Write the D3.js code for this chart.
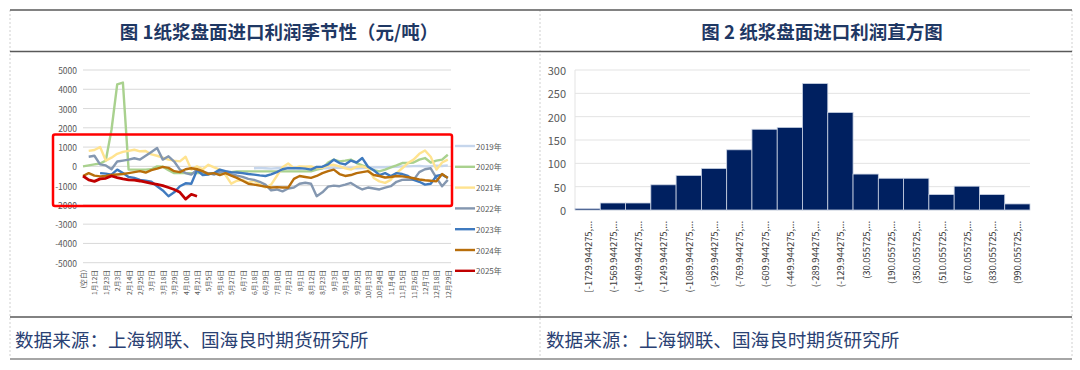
<!DOCTYPE html>
<html>
<head>
<meta charset="utf-8">
<script src="https://cdn.jsdelivr.net/npm/d3@7"></script>
<style>
  body { margin: 0; background: #fff; }
  text { font-family: "Noto Sans CJK SC", "Noto Sans", sans-serif; }
</style>
</head>
<body>
<div id="chart"></div>
<script>
// ---- data: figure 1 (seasonal import profit, 元/吨) ----
const dateLabels = ["(空白)", "1月12日", "1月23日", "2月3日", "2月14日", "2月25日", "3月7日", "3月18日",
  "3月29日", "4月10日", "4月21日", "5月5日", "5月16日", "5月27日", "6月7日", "6月18日", "6月29日",
  "7月10日", "7月21日", "8月1日", "8月12日", "8月23日", "9月3日", "9月14日", "9月25日", "10月13日",
  "10月24日", "11月4日", "11月15日", "11月26日", "12月7日", "12月18日", "12月29日"];

// values sampled every half label step (65 samples), null = no data
const y2019 = [null, null, null, null, null, null, null, null, null, null, null, null, null, null, null,
  null, null, null, null, null, null, null, null, null, null, null, null, null, null, null,
  -100, -80, -100, -120, -90, -100, -80, -60, -100, -120, -100, -80, -100, -90, -80, -60, -80, -90,
  -100, -90, -80, -60, -40, -50, -30, -20, 0, 0, 10, 20, 0, 10, 30, 20, 50];
const y2020 = [0, 50, 100, 150, 300, 1900, 4250, 4350, -170, -170, -170, -170, -150, 0, -20, -200,
  -350, -350, -350, -350, -350, -350, -350, -350, -350, -350, -300, -260, -260, -260, -260, -260,
  -260, -260, -260, -260, -260, -260, -260, -260, -260, -170, -100, 200, 350, 260, 300, 350, 170,
  50, -50, -200, -260, -170, -50, 50, 170, 170, 200, 350, 430, 200, 300, 350, 600];
const y2021 = [null, 800, 850, 1000, 300, 450, 650, 750, 800, 860, 780, 800, 620, 550, 450, 350, 300,
  260, 500, -170, 0, -150, 80, -50, -170, -450, -900, -750, -700, -850, -750, -950, -1100, -950,
  -500, -50, 150, -90, 0, -20, 0, -90, -80, 50, 80, 0, -100, -170, -20, 0, -100, -600, -780, -860,
  -700, -350, -100, 170, 350, 650, 820, 500, -170, 200, 350];
const y2022 = [null, 500, 550, 100, 50, -150, 250, 300, 350, 420, 350, 550, 750, 950, 350, 520, 250,
  -170, -350, -430, -170, -300, -350, -430, -300, -260, -400, -480, -550, -650, -700, -800, -950,
  -1250, -1200, -1300, -1150, -1100, -900, -850, -900, -1550, -1350, -1050, -1000, -1030, -950,
  -860, -1050, -1200, -1100, -1150, -1200, -1100, -1030, -800, -700, -680, -700, -300, -150, -100,
  -600, -1030, -700];
const y2023 = [null, null, null, -350, -380, -430, -170, -350, -550, -600, -700, -750, -800, -1030,
  -1250, -1550, -1350, -1030, -880, -900, -200, -450, -420, -350, -170, -250, -300, -320, -350, -400,
  -430, -470, -500, -420, -300, -150, -90, -100, -90, -120, -170, -30, -20, 100, 350, 170, 100, 300,
  200, 430, -20, -200, -450, -350, -500, -350, -400, -500, -700, -800, -950, -900, -500, -430, -600];
const y2024 = [-500, -350, -480, -520, -500, -450, -420, -400, -350, -300, -250, -320, -200, -120, -30,
  -80, -250, -300, -150, -100, -150, -250, -400, -350, -450, -350, -480, -600, -750, -900, -950,
  -1000, -1050, -1100, -1080, -1100, -1100, -650, -500, -550, -600, -500, -350, -250, -170, -400,
  -500, -450, -350, -300, -250, -450, -500, -580, -550, -500, -520, -560, -620, -680, -720, -750,
  -780, -400, -600];
const y2025 = [-500, -700, -780, -650, -620, -500, -580, -650, -700, -720, -760, -820, -880, -930,
  -1000, -1100, -1200, -1350, -1700, -1450, -1550];

const seasonYears = ["2019年", "2020年", "2021年", "2022年", "2023年", "2024年", "2025年"];
const seasonColors = ["#c6d6ec", "#a9d18e", "#ffe38f", "#8497b0", "#3f7abf", "#b86e0b", "#c00000"];
const seasonSeries = [y2019, y2020, y2021, y2022, y2023, y2024, y2025];
const profitTicks = [5000, 4000, 3000, 2000, 1000, 0, -1000, -2000, -3000, -4000, -5000];

// ---- data: figure 2 (histogram) ----
const binLabels = ["[-1729.944275,...", "(-1569.944275,...", "(-1409.944275,...", "(-1249.944275,...",
  "(-1089.944275,...", "(-929.944275,...", "(-769.944275,...", "(-609.944275,...", "(-449.944275,...",
  "(-289.944275,...", "(-129.944275,...", "(30.055725,...", "(190.055725,...", "(350.055725,...",
  "(510.055725,...", "(670.055725,...", "(830.055725,...", "(990.055725,..."];
const binCounts = [3, 15, 15, 54, 74, 89, 129, 173, 177, 271, 209, 77, 68, 68, 33, 51, 33, 13];
const countTicks = [0, 50, 100, 150, 200, 250, 300];

const W = 1080, H = 370;
const svg = d3.select("#chart").append("svg").attr("width", W).attr("height", H);

// ---- frame ----
const frame = svg.append("g");
[10, 540, 1072].forEach(x => {
  frame.append("line").attr("x1", x).attr("x2", x).attr("y1", 10).attr("y2", 358)
    .attr("stroke", "#d0d0d0").attr("stroke-dasharray", "2,2");
});
frame.append("line").attr("x1", 10).attr("x2", 1072).attr("y1", 10).attr("y2", 10)
  .attr("stroke", "#595959").attr("stroke-width", 1.5);
frame.append("line").attr("x1", 10).attr("x2", 1072).attr("y1", 51.5).attr("y2", 51.5)
  .attr("stroke", "#595959").attr("stroke-width", 1.5);
frame.append("line").attr("x1", 10).attr("x2", 1072).attr("y1", 317).attr("y2", 317)
  .attr("stroke", "#595959").attr("stroke-width", 1.5);
frame.append("line").attr("x1", 10).attr("x2", 1072).attr("y1", 359).attr("y2", 359)
  .attr("stroke", "#a6a6a6").attr("stroke-width", 2);

const titleColor = "#1f3864";
svg.append("text").attr("x", 279).attr("y", 31).attr("text-anchor", "middle")
  .attr("dominant-baseline", "central").attr("font-size", 18.5).attr("font-weight", "bold")
  .attr("fill", titleColor).text("图 1纸浆盘面进口利润季节性（元/吨）");
svg.append("text").attr("x", 822).attr("y", 31).attr("text-anchor", "middle")
  .attr("dominant-baseline", "central").attr("font-size", 18.5).attr("font-weight", "bold")
  .attr("fill", titleColor).text("图 2 纸浆盘面进口利润直方图");
[15, 546].forEach(x => {
  svg.append("text").attr("x", x).attr("y", 338).attr("dominant-baseline", "central")
    .attr("font-size", 18.6).attr("fill", "#2a4173").text("数据来源：上海钢联、国海良时期货研究所");
});

// ---- figure 1: seasonal lines ----
const x1 = d3.scaleLinear().domain([0, dateLabels.length - 1]).range([83, 447.8]);
const y1 = d3.scaleLinear().domain([-5000, 5000]).range([262.7, 70]);

const g1 = svg.append("g");
g1.selectAll(".grid1").data(profitTicks).enter().append("line")
  .attr("x1", 83).attr("x2", 451).attr("y1", d => y1(d)).attr("y2", d => y1(d))
  .attr("stroke", "#d9d9d9").attr("stroke-width", 1);
g1.selectAll(".ylab1").data(profitTicks).enter().append("text")
  .attr("x", 77).attr("y", d => y1(d)).attr("text-anchor", "end").attr("dominant-baseline", "central")
  .attr("font-size", 8.5).attr("fill", "#595959").text(d => d);
g1.selectAll(".xlab1").data(dateLabels).enter().append("text")
  .attr("transform", (d, i) => `translate(${x1(i)},270) rotate(-90)`)
  .attr("text-anchor", "end").attr("dominant-baseline", "central")
  .attr("font-size", 6.8).attr("fill", "#595959").text(d => d);

const line1 = d3.line()
  .defined(d => d != null)
  .x((d, i) => x1(i / 2))
  .y(d => y1(d));
seasonSeries.forEach((s, i) => {
  g1.append("path").datum(s).attr("d", line1).attr("fill", "none")
    .attr("stroke", seasonColors[i]).attr("stroke-width", i === 6 ? 2.8 : 2.4)
    .attr("stroke-linejoin", "round");
});

// legend
seasonYears.forEach((name, i) => {
  const ly = 146 + i * 20.8;
  g1.append("line").attr("x1", 455).attr("x2", 475).attr("y1", ly).attr("y2", ly)
    .attr("stroke", seasonColors[i]).attr("stroke-width", 2.4);
  g1.append("text").attr("x", 476).attr("y", ly).attr("dominant-baseline", "central")
    .attr("font-size", 8).attr("fill", "#595959").text(name);
});

// red highlight box
g1.append("rect").attr("x", 53).attr("y", 134.5).attr("width", 399).attr("height", 71.5)
  .attr("rx", 2).attr("fill", "none").attr("stroke", "#ff0000").attr("stroke-width", 2.5);

// ---- figure 2: histogram ----
const x2 = d3.scaleBand().domain(binLabels).range([575, 1030]).padding(0);
const y2 = d3.scaleLinear().domain([0, 300]).range([210, 70]);
const g2 = svg.append("g");
g2.selectAll(".grid2").data(countTicks).enter().append("line")
  .attr("x1", 575).attr("x2", 1030).attr("y1", d => y2(d)).attr("y2", d => y2(d))
  .attr("stroke", "#e3e3e3").attr("stroke-width", 1);
g2.append("line").attr("x1", 575).attr("x2", 575).attr("y1", 70).attr("y2", 210)
  .attr("stroke", "#e3e3e3");
g2.selectAll(".ylab2").data(countTicks).enter().append("text")
  .attr("x", 566).attr("y", d => y2(d)).attr("text-anchor", "end").attr("dominant-baseline", "central")
  .attr("font-size", 11).attr("fill", "#595959").text(d => d);
g2.selectAll(".bar").data(binCounts).enter().append("rect")
  .attr("x", (d, i) => x2(binLabels[i])).attr("width", x2.bandwidth())
  .attr("y", d => y2(d)).attr("height", d => y2(0) - y2(d))
  .attr("fill", "#002060").attr("stroke", "#c9d2e3").attr("stroke-width", 0.8);
g2.selectAll(".xlab2").data(binLabels).enter().append("text")
  .attr("transform", d => `translate(${x2(d) + x2.bandwidth() / 2},221) rotate(-90)`)
  .attr("text-anchor", "end").attr("dominant-baseline", "central")
  .attr("font-size", 9.4).attr("fill", "#404040").text(d => d);
</script>
</body>
</html>
